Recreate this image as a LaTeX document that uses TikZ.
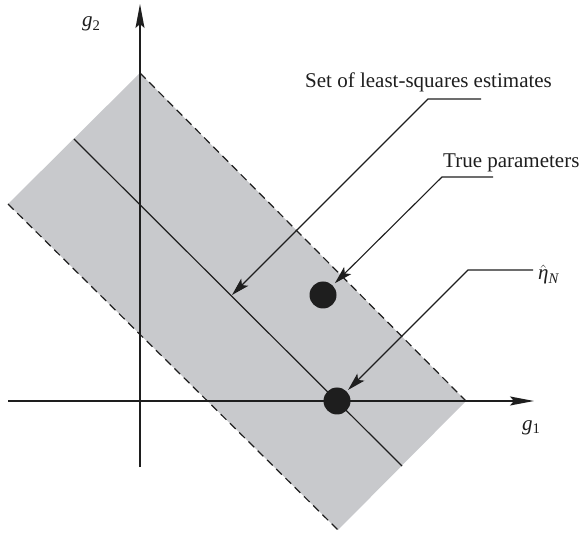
\documentclass[tikz,border=0pt]{standalone}
\usepackage{fontspec}
\setmainfont{Liberation Serif}
\usetikzlibrary{arrows.meta}
\definecolor{bandgray}{RGB}{200,201,204}
\definecolor{ink}{RGB}{30,30,30}
\tikzset{
  axisline/.style={draw=ink, line width=1.3pt, -{Stealth[length=24pt,width=9pt,inset=4pt]}},
  leader/.style={draw=ink, line width=1.1pt, -{Stealth[length=18pt,width=10pt,inset=4pt]}},
  boundary/.style={draw=ink, line width=1.2pt, dash pattern=on 8pt off 5pt},
  midline/.style={draw=ink, line width=1.2pt},
  dotnode/.style={circle, fill=ink, inner sep=0pt, minimum size=27pt},
  lbl/.style={font=\fontsize{21}{24}\selectfont, text=ink, inner sep=0pt, anchor=base west}
}
\begin{document}
\begin{tikzpicture}[x=1pt,y=-1pt]
\useasboundingbox (0,0) rectangle (581,534);
% band corners
\coordinate (top) at (140,73);
\coordinate (left) at (8,204);
\coordinate (bot) at (338,530);
\coordinate (right) at (466,401);
\coordinate (midA) at (74,139);
\coordinate (midB) at (402,466);
\fill[bandgray] (top) -- (right) -- (bot) -- (left) -- cycle;
\draw[boundary] (top) -- (right);
\draw[boundary] (left) -- (bot);
\draw[midline] (midA) -- (midB);
% axes
\coordinate (xs) at (8,401);
\coordinate (xe) at (534,401);
\coordinate (ys) at (140,467);
\coordinate (ye) at (140,4);
\draw[axisline] (xs) -- (xe);
\draw[axisline] (ys) -- (ye);
\node[lbl] (g1) at (522,430) {\textit{g}\textsubscript{1}};
\node[lbl] (g2) at (82,27) {\textit{g}\textsubscript{2}};
% dots
\node[dotnode] (truedot) at (323,295) {};
\node[dotnode] (estdot) at (337,401) {};
% labels
\node[lbl] (lsq) at (305,88) {Set of least-squares estimates};
\node[lbl] (tp) at (443,168) {True parameters};
\node[lbl] (eta) at (538,280) {$\hat{\hbox{\textit{η}}}$\textsubscript{\textit{N}}};
% leaders
\coordinate (lsqA) at (481,99);
\coordinate (lsqB) at (428,99);
\coordinate (lsqT) at (232,295);
\draw[leader] (lsqA) -- (lsqB) -- (lsqT);
\coordinate (tpA) at (493,177);
\coordinate (tpB) at (442,177);
\draw[leader, shorten >=3pt] (tpA) -- (tpB) -- (truedot);
\coordinate (etaA) at (533,270);
\coordinate (etaB) at (468,270);
\draw[leader, shorten >=2pt] (etaA) -- (etaB) -- (estdot);
\end{tikzpicture}
\end{document}
